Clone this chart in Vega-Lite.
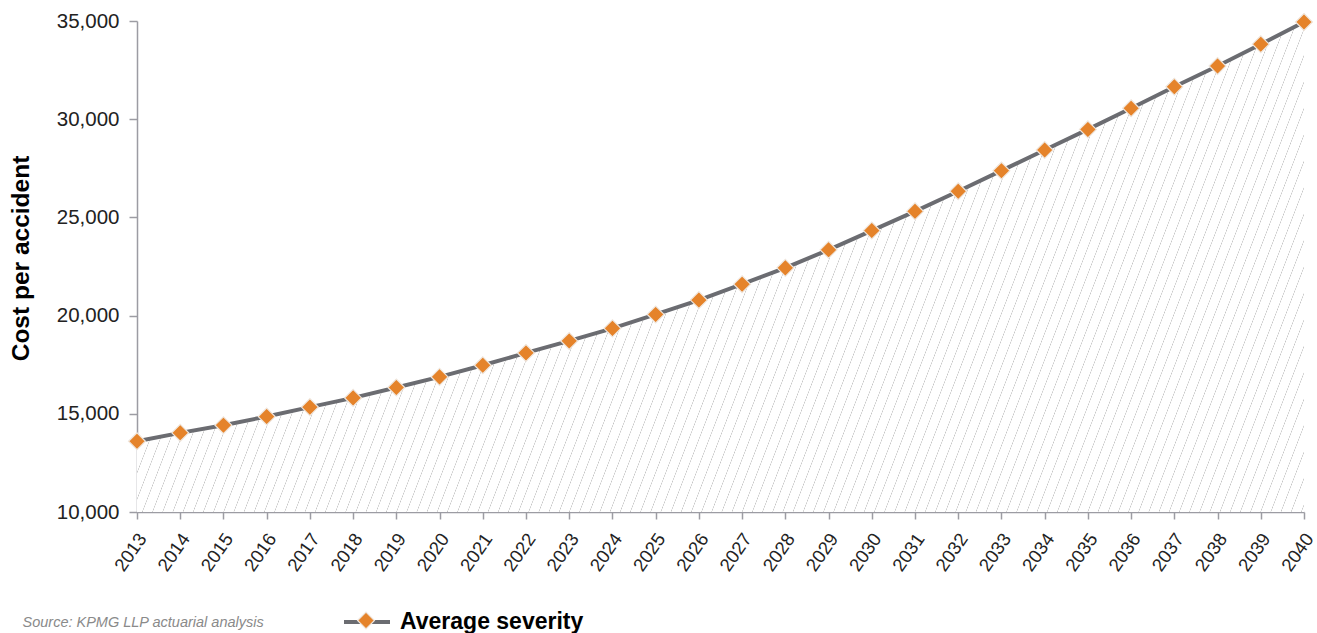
{
"$schema": "https://vega.github.io/schema/vega-lite/v6.json",
"autosize": {"type": "none"},
"padding": {"left": 137, "top": 21, "right": 13, "bottom": 121},
"width": 1167,
"height": 491,
"background": "white",
"config": {"view": {"stroke": null}, "font": "Liberation Sans"},
"data": {"values": [
{"year": "2013", "cost": 13600}, {"year": "2014", "cost": 14030}, {"year": "2015", "cost": 14420}, {"year": "2016", "cost": 14860},
{"year": "2017", "cost": 15340}, {"year": "2018", "cost": 15810}, {"year": "2019", "cost": 16340}, {"year": "2020", "cost": 16880},
{"year": "2021", "cost": 17470}, {"year": "2022", "cost": 18100}, {"year": "2023", "cost": 18710}, {"year": "2024", "cost": 19350},
{"year": "2025", "cost": 20060}, {"year": "2026", "cost": 20790}, {"year": "2027", "cost": 21600}, {"year": "2028", "cost": 22430},
{"year": "2029", "cost": 23350}, {"year": "2030", "cost": 24330}, {"year": "2031", "cost": 25310}, {"year": "2032", "cost": 26330},
{"year": "2033", "cost": 27380}, {"year": "2034", "cost": 28430}, {"year": "2035", "cost": 29480}, {"year": "2036", "cost": 30560},
{"year": "2037", "cost": 31650}, {"year": "2038", "cost": 32710}, {"year": "2039", "cost": 33820}, {"year": "2040", "cost": 34950}
]},
"encoding": {
  "x": {"field": "year", "type": "ordinal", "scale": {"type": "point", "padding": 0},
    "axis": {"title": "Source: KPMG LLP actuarial analysis", "titleX": -115, "titleY": 114, "titleAnchor": "start", "titleAlign": "left", "titleBaseline": "alphabetic", "titleFontSize": 14.5, "titleFontStyle": "italic", "titleFontWeight": "normal", "titleColor": "#8a8a8a", "titleFont": "Liberation Sans",
      "labelAngle": -55, "labelAlign": "right", "labelBaseline": "middle", "labelFontSize": 18.5, "labelColor": "#222222", "labelFont": "Liberation Sans", "tickSize": 7, "tickWidth": 1.5, "tickColor": "#9c9ca3", "domainColor": "#9c9ca3", "domainWidth": 1.5, "labelPadding": 16, "labelOffset": 5}},
  "y": {"field": "cost", "type": "quantitative", "scale": {"domain": [10000, 35000], "zero": false, "nice": false},
    "axis": {"title": "Cost per accident", "values": [10000, 15000, 20000, 25000, 30000, 35000], "format": ",d", "grid": false, "labelFontSize": 20.5, "labelColor": "#222222", "labelFont": "Liberation Sans", "labelPadding": 10, "tickSize": 8, "tickWidth": 1.5, "tickColor": "#9c9ca3", "domainColor": "#9c9ca3", "domainWidth": 1.5, "titleFontSize": 24.5, "titleFontWeight": "bold", "titleColor": "#000000", "titleFont": "Liberation Sans", "titleX": -116, "titleY": 237, "titleAngle": -90, "titleAlign": "center", "titleBaseline": "middle"}}
},
"layer": [
  {"mark": {"type": "area", "strokeWidth": 0, "fill": {"gradient": "linear", "x1": 0, "y1": 0, "x2": 1.132, "y2": 0.1828, "stops": [
{"offset":0,"color":"#fff"},
{"offset":0.0075,"color":"#fff"},{"offset":0.00795,"color":"#c4c4c4"},{"offset":0.0084,"color":"#fff"},
{"offset":0.015,"color":"#fff"},{"offset":0.01545,"color":"#c4c4c4"},{"offset":0.0159,"color":"#fff"},
{"offset":0.0225,"color":"#fff"},{"offset":0.02295,"color":"#c4c4c4"},{"offset":0.0234,"color":"#fff"},
{"offset":0.03,"color":"#fff"},{"offset":0.03045,"color":"#c4c4c4"},{"offset":0.0309,"color":"#fff"},
{"offset":0.0375,"color":"#fff"},{"offset":0.03795,"color":"#c4c4c4"},{"offset":0.0384,"color":"#fff"},
{"offset":0.045,"color":"#fff"},{"offset":0.04545,"color":"#c4c4c4"},{"offset":0.0459,"color":"#fff"},
{"offset":0.0525,"color":"#fff"},{"offset":0.05295,"color":"#c4c4c4"},{"offset":0.0534,"color":"#fff"},
{"offset":0.06,"color":"#fff"},{"offset":0.06045,"color":"#c4c4c4"},{"offset":0.0609,"color":"#fff"},
{"offset":0.0675,"color":"#fff"},{"offset":0.06795,"color":"#c4c4c4"},{"offset":0.0684,"color":"#fff"},
{"offset":0.075,"color":"#fff"},{"offset":0.07545,"color":"#c4c4c4"},{"offset":0.0759,"color":"#fff"},
{"offset":0.0825,"color":"#fff"},{"offset":0.08295,"color":"#c4c4c4"},{"offset":0.0834,"color":"#fff"},
{"offset":0.09,"color":"#fff"},{"offset":0.09045,"color":"#c4c4c4"},{"offset":0.0909,"color":"#fff"},
{"offset":0.0975,"color":"#fff"},{"offset":0.09795,"color":"#c4c4c4"},{"offset":0.0984,"color":"#fff"},
{"offset":0.105,"color":"#fff"},{"offset":0.10545,"color":"#c4c4c4"},{"offset":0.1059,"color":"#fff"},
{"offset":0.1125,"color":"#fff"},{"offset":0.11295,"color":"#c4c4c4"},{"offset":0.1134,"color":"#fff"},
{"offset":0.12,"color":"#fff"},{"offset":0.12045,"color":"#c4c4c4"},{"offset":0.1209,"color":"#fff"},
{"offset":0.1275,"color":"#fff"},{"offset":0.12795,"color":"#c4c4c4"},{"offset":0.1284,"color":"#fff"},
{"offset":0.135,"color":"#fff"},{"offset":0.13545,"color":"#c4c4c4"},{"offset":0.1359,"color":"#fff"},
{"offset":0.1425,"color":"#fff"},{"offset":0.14295,"color":"#c4c4c4"},{"offset":0.1434,"color":"#fff"},
{"offset":0.15,"color":"#fff"},{"offset":0.15045,"color":"#c4c4c4"},{"offset":0.1509,"color":"#fff"},
{"offset":0.1575,"color":"#fff"},{"offset":0.15795,"color":"#c4c4c4"},{"offset":0.1584,"color":"#fff"},
{"offset":0.165,"color":"#fff"},{"offset":0.16545,"color":"#c4c4c4"},{"offset":0.1659,"color":"#fff"},
{"offset":0.1725,"color":"#fff"},{"offset":0.17295,"color":"#c4c4c4"},{"offset":0.1734,"color":"#fff"},
{"offset":0.18,"color":"#fff"},{"offset":0.18045,"color":"#c4c4c4"},{"offset":0.1809,"color":"#fff"},
{"offset":0.1875,"color":"#fff"},{"offset":0.18795,"color":"#c4c4c4"},{"offset":0.1884,"color":"#fff"},
{"offset":0.195,"color":"#fff"},{"offset":0.19545,"color":"#c4c4c4"},{"offset":0.1959,"color":"#fff"},
{"offset":0.2025,"color":"#fff"},{"offset":0.20295,"color":"#c4c4c4"},{"offset":0.2034,"color":"#fff"},
{"offset":0.21,"color":"#fff"},{"offset":0.21045,"color":"#c4c4c4"},{"offset":0.2109,"color":"#fff"},
{"offset":0.2175,"color":"#fff"},{"offset":0.21795,"color":"#c4c4c4"},{"offset":0.2184,"color":"#fff"},
{"offset":0.225,"color":"#fff"},{"offset":0.22545,"color":"#c4c4c4"},{"offset":0.2259,"color":"#fff"},
{"offset":0.2325,"color":"#fff"},{"offset":0.23295,"color":"#c4c4c4"},{"offset":0.2334,"color":"#fff"},
{"offset":0.24,"color":"#fff"},{"offset":0.24045,"color":"#c4c4c4"},{"offset":0.2409,"color":"#fff"},
{"offset":0.2475,"color":"#fff"},{"offset":0.24795,"color":"#c4c4c4"},{"offset":0.2484,"color":"#fff"},
{"offset":0.255,"color":"#fff"},{"offset":0.25545,"color":"#c4c4c4"},{"offset":0.2559,"color":"#fff"},
{"offset":0.2625,"color":"#fff"},{"offset":0.26295,"color":"#c4c4c4"},{"offset":0.2634,"color":"#fff"},
{"offset":0.27,"color":"#fff"},{"offset":0.27045,"color":"#c4c4c4"},{"offset":0.2709,"color":"#fff"},
{"offset":0.2775,"color":"#fff"},{"offset":0.27795,"color":"#c4c4c4"},{"offset":0.2784,"color":"#fff"},
{"offset":0.285,"color":"#fff"},{"offset":0.28545,"color":"#c4c4c4"},{"offset":0.2859,"color":"#fff"},
{"offset":0.2925,"color":"#fff"},{"offset":0.29295,"color":"#c4c4c4"},{"offset":0.2934,"color":"#fff"},
{"offset":0.3,"color":"#fff"},{"offset":0.30045,"color":"#c4c4c4"},{"offset":0.3009,"color":"#fff"},
{"offset":0.3075,"color":"#fff"},{"offset":0.30795,"color":"#c4c4c4"},{"offset":0.3084,"color":"#fff"},
{"offset":0.315,"color":"#fff"},{"offset":0.31545,"color":"#c4c4c4"},{"offset":0.3159,"color":"#fff"},
{"offset":0.3225,"color":"#fff"},{"offset":0.32295,"color":"#c4c4c4"},{"offset":0.3234,"color":"#fff"},
{"offset":0.33,"color":"#fff"},{"offset":0.33045,"color":"#c4c4c4"},{"offset":0.3309,"color":"#fff"},
{"offset":0.3375,"color":"#fff"},{"offset":0.33795,"color":"#c4c4c4"},{"offset":0.3384,"color":"#fff"},
{"offset":0.345,"color":"#fff"},{"offset":0.34545,"color":"#c4c4c4"},{"offset":0.3459,"color":"#fff"},
{"offset":0.3525,"color":"#fff"},{"offset":0.35295,"color":"#c4c4c4"},{"offset":0.3534,"color":"#fff"},
{"offset":0.36,"color":"#fff"},{"offset":0.36045,"color":"#c4c4c4"},{"offset":0.3609,"color":"#fff"},
{"offset":0.3675,"color":"#fff"},{"offset":0.36795,"color":"#c4c4c4"},{"offset":0.3684,"color":"#fff"},
{"offset":0.375,"color":"#fff"},{"offset":0.37545,"color":"#c4c4c4"},{"offset":0.3759,"color":"#fff"},
{"offset":0.3825,"color":"#fff"},{"offset":0.38295,"color":"#c4c4c4"},{"offset":0.3834,"color":"#fff"},
{"offset":0.39,"color":"#fff"},{"offset":0.39045,"color":"#c4c4c4"},{"offset":0.3909,"color":"#fff"},
{"offset":0.3975,"color":"#fff"},{"offset":0.39795,"color":"#c4c4c4"},{"offset":0.3984,"color":"#fff"},
{"offset":0.405,"color":"#fff"},{"offset":0.40545,"color":"#c4c4c4"},{"offset":0.4059,"color":"#fff"},
{"offset":0.4125,"color":"#fff"},{"offset":0.41295,"color":"#c4c4c4"},{"offset":0.4134,"color":"#fff"},
{"offset":0.42,"color":"#fff"},{"offset":0.42045,"color":"#c4c4c4"},{"offset":0.4209,"color":"#fff"},
{"offset":0.4275,"color":"#fff"},{"offset":0.42795,"color":"#c4c4c4"},{"offset":0.4284,"color":"#fff"},
{"offset":0.435,"color":"#fff"},{"offset":0.43545,"color":"#c4c4c4"},{"offset":0.4359,"color":"#fff"},
{"offset":0.4425,"color":"#fff"},{"offset":0.44295,"color":"#c4c4c4"},{"offset":0.4434,"color":"#fff"},
{"offset":0.45,"color":"#fff"},{"offset":0.45045,"color":"#c4c4c4"},{"offset":0.4509,"color":"#fff"},
{"offset":0.4575,"color":"#fff"},{"offset":0.45795,"color":"#c4c4c4"},{"offset":0.4584,"color":"#fff"},
{"offset":0.465,"color":"#fff"},{"offset":0.46545,"color":"#c4c4c4"},{"offset":0.4659,"color":"#fff"},
{"offset":0.4725,"color":"#fff"},{"offset":0.47295,"color":"#c4c4c4"},{"offset":0.4734,"color":"#fff"},
{"offset":0.48,"color":"#fff"},{"offset":0.48045,"color":"#c4c4c4"},{"offset":0.4809,"color":"#fff"},
{"offset":0.4875,"color":"#fff"},{"offset":0.48795,"color":"#c4c4c4"},{"offset":0.4884,"color":"#fff"},
{"offset":0.495,"color":"#fff"},{"offset":0.49545,"color":"#c4c4c4"},{"offset":0.4959,"color":"#fff"},
{"offset":0.5025,"color":"#fff"},{"offset":0.50295,"color":"#c4c4c4"},{"offset":0.5034,"color":"#fff"},
{"offset":0.51,"color":"#fff"},{"offset":0.51045,"color":"#c4c4c4"},{"offset":0.5109,"color":"#fff"},
{"offset":0.5175,"color":"#fff"},{"offset":0.51795,"color":"#c4c4c4"},{"offset":0.5184,"color":"#fff"},
{"offset":0.525,"color":"#fff"},{"offset":0.52545,"color":"#c4c4c4"},{"offset":0.5259,"color":"#fff"},
{"offset":0.5325,"color":"#fff"},{"offset":0.53295,"color":"#c4c4c4"},{"offset":0.5334,"color":"#fff"},
{"offset":0.54,"color":"#fff"},{"offset":0.54045,"color":"#c4c4c4"},{"offset":0.5409,"color":"#fff"},
{"offset":0.5475,"color":"#fff"},{"offset":0.54795,"color":"#c4c4c4"},{"offset":0.5484,"color":"#fff"},
{"offset":0.555,"color":"#fff"},{"offset":0.55545,"color":"#c4c4c4"},{"offset":0.5559,"color":"#fff"},
{"offset":0.5625,"color":"#fff"},{"offset":0.56295,"color":"#c4c4c4"},{"offset":0.5634,"color":"#fff"},
{"offset":0.57,"color":"#fff"},{"offset":0.57045,"color":"#c4c4c4"},{"offset":0.5709,"color":"#fff"},
{"offset":0.5775,"color":"#fff"},{"offset":0.57795,"color":"#c4c4c4"},{"offset":0.5784,"color":"#fff"},
{"offset":0.585,"color":"#fff"},{"offset":0.58545,"color":"#c4c4c4"},{"offset":0.5859,"color":"#fff"},
{"offset":0.5925,"color":"#fff"},{"offset":0.59295,"color":"#c4c4c4"},{"offset":0.5934,"color":"#fff"},
{"offset":0.6,"color":"#fff"},{"offset":0.60045,"color":"#c4c4c4"},{"offset":0.6009,"color":"#fff"},
{"offset":0.6075,"color":"#fff"},{"offset":0.60795,"color":"#c4c4c4"},{"offset":0.6084,"color":"#fff"},
{"offset":0.615,"color":"#fff"},{"offset":0.61545,"color":"#c4c4c4"},{"offset":0.6159,"color":"#fff"},
{"offset":0.6225,"color":"#fff"},{"offset":0.62295,"color":"#c4c4c4"},{"offset":0.6234,"color":"#fff"},
{"offset":0.63,"color":"#fff"},{"offset":0.63045,"color":"#c4c4c4"},{"offset":0.6309,"color":"#fff"},
{"offset":0.6375,"color":"#fff"},{"offset":0.63795,"color":"#c4c4c4"},{"offset":0.6384,"color":"#fff"},
{"offset":0.645,"color":"#fff"},{"offset":0.64545,"color":"#c4c4c4"},{"offset":0.6459,"color":"#fff"},
{"offset":0.6525,"color":"#fff"},{"offset":0.65295,"color":"#c4c4c4"},{"offset":0.6534,"color":"#fff"},
{"offset":0.66,"color":"#fff"},{"offset":0.66045,"color":"#c4c4c4"},{"offset":0.6609,"color":"#fff"},
{"offset":0.6675,"color":"#fff"},{"offset":0.66795,"color":"#c4c4c4"},{"offset":0.6684,"color":"#fff"},
{"offset":0.675,"color":"#fff"},{"offset":0.67545,"color":"#c4c4c4"},{"offset":0.6759,"color":"#fff"},
{"offset":0.6825,"color":"#fff"},{"offset":0.68295,"color":"#c4c4c4"},{"offset":0.6834,"color":"#fff"},
{"offset":0.69,"color":"#fff"},{"offset":0.69045,"color":"#c4c4c4"},{"offset":0.6909,"color":"#fff"},
{"offset":0.6975,"color":"#fff"},{"offset":0.69795,"color":"#c4c4c4"},{"offset":0.6984,"color":"#fff"},
{"offset":0.705,"color":"#fff"},{"offset":0.70545,"color":"#c4c4c4"},{"offset":0.7059,"color":"#fff"},
{"offset":0.7125,"color":"#fff"},{"offset":0.71295,"color":"#c4c4c4"},{"offset":0.7134,"color":"#fff"},
{"offset":0.72,"color":"#fff"},{"offset":0.72045,"color":"#c4c4c4"},{"offset":0.7209,"color":"#fff"},
{"offset":0.7275,"color":"#fff"},{"offset":0.72795,"color":"#c4c4c4"},{"offset":0.7284,"color":"#fff"},
{"offset":0.735,"color":"#fff"},{"offset":0.73545,"color":"#c4c4c4"},{"offset":0.7359,"color":"#fff"},
{"offset":0.7425,"color":"#fff"},{"offset":0.74295,"color":"#c4c4c4"},{"offset":0.7434,"color":"#fff"},
{"offset":0.75,"color":"#fff"},{"offset":0.75045,"color":"#c4c4c4"},{"offset":0.7509,"color":"#fff"},
{"offset":0.7575,"color":"#fff"},{"offset":0.75795,"color":"#c4c4c4"},{"offset":0.7584,"color":"#fff"},
{"offset":0.765,"color":"#fff"},{"offset":0.76545,"color":"#c4c4c4"},{"offset":0.7659,"color":"#fff"},
{"offset":0.7725,"color":"#fff"},{"offset":0.77295,"color":"#c4c4c4"},{"offset":0.7734,"color":"#fff"},
{"offset":0.78,"color":"#fff"},{"offset":0.78045,"color":"#c4c4c4"},{"offset":0.7809,"color":"#fff"},
{"offset":0.7875,"color":"#fff"},{"offset":0.78795,"color":"#c4c4c4"},{"offset":0.7884,"color":"#fff"},
{"offset":0.795,"color":"#fff"},{"offset":0.79545,"color":"#c4c4c4"},{"offset":0.7959,"color":"#fff"},
{"offset":0.8025,"color":"#fff"},{"offset":0.80295,"color":"#c4c4c4"},{"offset":0.8034,"color":"#fff"},
{"offset":0.81,"color":"#fff"},{"offset":0.81045,"color":"#c4c4c4"},{"offset":0.8109,"color":"#fff"},
{"offset":0.8175,"color":"#fff"},{"offset":0.81795,"color":"#c4c4c4"},{"offset":0.8184,"color":"#fff"},
{"offset":0.825,"color":"#fff"},{"offset":0.82545,"color":"#c4c4c4"},{"offset":0.8259,"color":"#fff"},
{"offset":0.8325,"color":"#fff"},{"offset":0.83295,"color":"#c4c4c4"},{"offset":0.8334,"color":"#fff"},
{"offset":0.84,"color":"#fff"},{"offset":0.84045,"color":"#c4c4c4"},{"offset":0.8409,"color":"#fff"},
{"offset":0.8475,"color":"#fff"},{"offset":0.84795,"color":"#c4c4c4"},{"offset":0.8484,"color":"#fff"},
{"offset":0.855,"color":"#fff"},{"offset":0.85545,"color":"#c4c4c4"},{"offset":0.8559,"color":"#fff"},
{"offset":0.8625,"color":"#fff"},{"offset":0.86295,"color":"#c4c4c4"},{"offset":0.8634,"color":"#fff"},
{"offset":0.87,"color":"#fff"},{"offset":0.87045,"color":"#c4c4c4"},{"offset":0.8709,"color":"#fff"},
{"offset":0.8775,"color":"#fff"},{"offset":0.87795,"color":"#c4c4c4"},{"offset":0.8784,"color":"#fff"},
{"offset":0.885,"color":"#fff"},{"offset":0.88545,"color":"#c4c4c4"},{"offset":0.8859,"color":"#fff"},
{"offset":0.8925,"color":"#fff"},{"offset":0.89295,"color":"#c4c4c4"},{"offset":0.8934,"color":"#fff"},
{"offset":0.9,"color":"#fff"},{"offset":0.90045,"color":"#c4c4c4"},{"offset":0.9009,"color":"#fff"},
{"offset":0.9075,"color":"#fff"},{"offset":0.90795,"color":"#c4c4c4"},{"offset":0.9084,"color":"#fff"},
{"offset":0.915,"color":"#fff"},{"offset":0.91545,"color":"#c4c4c4"},{"offset":0.9159,"color":"#fff"},
{"offset":0.9225,"color":"#fff"},{"offset":0.92295,"color":"#c4c4c4"},{"offset":0.9234,"color":"#fff"},
{"offset":0.93,"color":"#fff"},{"offset":0.93045,"color":"#c4c4c4"},{"offset":0.9309,"color":"#fff"},
{"offset":0.9375,"color":"#fff"},{"offset":0.93795,"color":"#c4c4c4"},{"offset":0.9384,"color":"#fff"},
{"offset":0.945,"color":"#fff"},{"offset":0.94545,"color":"#c4c4c4"},{"offset":0.9459,"color":"#fff"},
{"offset":0.9525,"color":"#fff"},{"offset":0.95295,"color":"#c4c4c4"},{"offset":0.9534,"color":"#fff"},
{"offset":0.96,"color":"#fff"},{"offset":0.96045,"color":"#c4c4c4"},{"offset":0.9609,"color":"#fff"},
{"offset":0.9675,"color":"#fff"},{"offset":0.96795,"color":"#c4c4c4"},{"offset":0.9684,"color":"#fff"},
{"offset":0.975,"color":"#fff"},{"offset":0.97545,"color":"#c4c4c4"},{"offset":0.9759,"color":"#fff"},
{"offset":0.9825,"color":"#fff"},{"offset":0.98295,"color":"#c4c4c4"},{"offset":0.9834,"color":"#fff"},
{"offset":0.99,"color":"#fff"},{"offset":0.99045,"color":"#c4c4c4"},{"offset":0.9909,"color":"#fff"},
{"offset":0.9975,"color":"#fff"},{"offset":0.99795,"color":"#c4c4c4"},{"offset":0.9984,"color":"#fff"},
{"offset":1,"color":"#fff"}
]}},
   "encoding": {"y2": {"datum": 10000}}},
  {"mark": {"type": "line", "strokeWidth": 4},
   "encoding": {"stroke": {"datum": "Average severity", "type": "nominal", "scale": {"range": ["#6b6c71"]},
     "legend": {"orient": "none", "legendX": 205, "legendY": 576, "title": null, "padding": 0, "symbolType": "stroke", "symbolSize": 2116, "symbolStrokeWidth": 4, "labelFontSize": 23, "labelFontWeight": "bold", "labelColor": "#000000", "labelFont": "Liberation Sans", "labelOffset": 8, "labelLimit": 500, "zindex": 0}}}},
  {"mark": {"type": "point", "shape": "diamond", "size": 285, "filled": true, "stroke": "#efe6dd", "strokeWidth": 1.2, "opacity": 1},
   "encoding": {"fill": {"datum": "avg", "type": "nominal", "scale": {"range": ["#e5832a"]},
     "legend": {"orient": "none", "legendX": 219.5, "legendY": 590, "title": null, "padding": 0, "symbolType": "diamond", "symbolSize": 285, "symbolStrokeColor": "#efe6dd", "symbolStrokeWidth": 1.2, "symbolOpacity": 1, "labelExpr": "''", "zindex": 1}}}}
]
}
